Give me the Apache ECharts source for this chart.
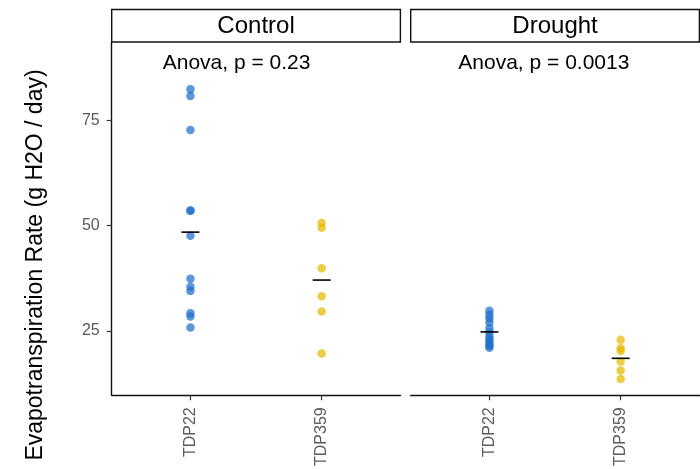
<!DOCTYPE html>
<html>
<head>
<meta charset="utf-8">
<script src="https://cdn.jsdelivr.net/npm/echarts@6/dist/echarts.min.js"></script>
<style>html,body{margin:0;padding:0;background:#fff}#c{width:700px;height:469px}</style>
</head>
<body>
<div id="c"></div>
<script>
// ---- data ----
var categories = ['TDP22', 'TDP359'];
var conditions = ['Control', 'Drought'];
var controlTDP22 = [82.4, 80.8, 72.7, 53.6, 53.5, 47.6, 37.4, 35.5, 34.5, 29.2, 28.4, 25.8];
var controlTDP359 = [50.6, 49.5, 39.9, 33.2, 29.6, 19.6];
var droughtTDP22 = [29.8, 28.8, 28.0, 27.0, 25.6, 24.6, 23.6, 23.0, 22.4, 21.8, 21.4, 21.0];
var droughtTDP359 = [22.9, 20.9, 20.2, 17.7, 15.6, 13.6];
var pLabels = ['Anova, p = 0.23', 'Anova, p = 0.0013'];
var yTicks = [25, 50, 75];
var yTitle = 'Evapotranspiration Rate (g H2O / day)';

var panels = [[controlTDP22, controlTDP359], [droughtTDP22, droughtTDP359]];
var colors = ['#1F6FCC', '#E6B800'];
var FONT = 'Liberation Sans, Arial, Helvetica, sans-serif';

function mean(a){var s=0;for(var i=0;i<a.length;i++)s+=a[i];return s/a.length;}

var gridL = [111.7, 410.7], gridW = 288.7, gridTop = 42, gridH = 353.5;
var grids = [], xAxes = [], yAxes = [], series = [], graphics = [];

panels.forEach(function(groups, p){
  grids.push({left: gridL[p], top: gridTop, width: gridW, height: gridH});
  xAxes.push({
    type: 'value', gridIndex: p, min: 0.4, max: 2.6,
    splitLine: {show: false},
    axisLine: {show: true, onZero: false, lineStyle: {color: '#111', width: 1.4}},
    axisTick: {show: true, length: 5, customValues: [1, 2], lineStyle: {color: '#333', width: 1.2}},
    axisLabel: {show: true, customValues: [1, 2], rotate: 90, margin: 12, fontSize: 16, color: '#5a5a5a', fontFamily: FONT,
      formatter: function(v){ return categories[Math.round(v) - 1] || ''; }}
  });
  yAxes.push({
    type: 'value', gridIndex: p, min: 9.7, max: 93.6,
    splitLine: {show: false},
    axisLine: {show: p === 0, lineStyle: {color: '#111', width: 1.4}},
    axisTick: {show: p === 0, length: 5, customValues: yTicks, lineStyle: {color: '#333', width: 1.2}},
    axisLabel: {show: p === 0, customValues: yTicks, margin: 12, fontSize: 16, color: '#5a5a5a', fontFamily: FONT}
  });
  groups.forEach(function(vals, g){
    series.push({
      type: 'scatter', xAxisIndex: p, yAxisIndex: p,
      data: vals.map(function(v){ return [g + 1, v]; }),
      symbol: 'circle', symbolSize: 8.5,
      itemStyle: {color: colors[g], opacity: 0.72},
      silent: true, z: 2
    });
    series.push({
      type: 'scatter', xAxisIndex: p, yAxisIndex: p,
      data: [[g + 1, mean(vals)]],
      symbol: 'rect', symbolSize: [18, 1.6],
      itemStyle: {color: '#000', opacity: 1},
      silent: true, z: 3
    });
  });
  // strip
  graphics.push({type: 'rect', shape: {x: gridL[p], y: 9.5, width: gridW, height: 32.5},
    style: {fill: '#fff', stroke: '#111', lineWidth: 1.4}, z: 10});
  graphics.push({type: 'text', x: gridL[p] + gridW / 2, y: 26.5,
    style: {text: conditions[p], fontSize: 24, fontFamily: FONT, fill: '#000', align: 'center', verticalAlign: 'middle'}, z: 11});
  // anova label
  graphics.push({type: 'text', x: [162.7, 458.3][p], y: 63,
    style: {text: pLabels[p], fontSize: 21, fontFamily: FONT, fill: '#000', align: 'left', verticalAlign: 'middle'}, z: 11});
});

graphics.push({type: 'text', x: 36, y: 265, rotation: Math.PI / 2,
  style: {text: yTitle, fontSize: 23, fontFamily: FONT, fill: '#000', align: 'center', verticalAlign: 'middle'}, z: 11});

var chart = echarts.init(document.getElementById('c'), null, {renderer: 'canvas'});
chart.setOption({
  animation: false,
  backgroundColor: '#fff',
  grid: grids, xAxis: xAxes, yAxis: yAxes, series: series, graphic: graphics
});
</script>
</body>
</html>
